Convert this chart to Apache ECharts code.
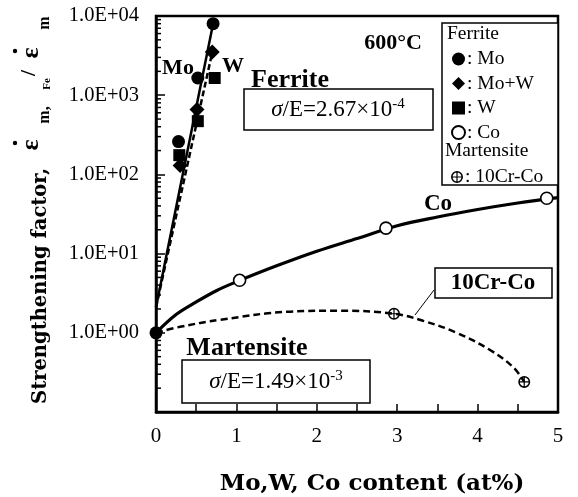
<!DOCTYPE html>
<html>
<head>
<meta charset="utf-8">
<script src="https://cdn.jsdelivr.net/npm/echarts@6/dist/echarts.min.js"></script>
<style>
  html, body { margin: 0; padding: 0; background: #fff; }
  #chart { width: 578px; height: 497px; }
</style>
</head>
<body>
<div id="chart"></div>
<script>
// Measured points (x: at%, y: strengthening factor)
const moX   = [0, 0.28, 0.52, 0.71];
const moY   = [1, 260, 1650, 8000];
const mowX  = [0.30, 0.51, 0.70];
const mowY  = [130, 660, 3500];
const wX    = [0.29, 0.52, 0.73];
const wY    = [175, 470, 1650];
const coX   = [1.04, 2.86, 4.86];
const coY   = [4.6, 21, 50];
const crX   = [2.96, 4.58];
const crY   = [1.74, 0.24];

// Fitted curves
const fitMoX  = [0, 0.71];
const fitMoY  = [2.1, 8000];
const fitWX   = [0, 0.70];
const fitWY   = [2.1, 3500];
const fitCoX  = [0, 0.25, 0.5, 0.75, 1.0, 1.5, 2, 2.5, 3, 3.5, 4, 4.5, 5];
const fitCoY  = [1, 1.7, 2.45, 3.4, 4.4, 7, 10.7, 15.5, 22.5, 29, 36, 43.5, 51];
const fitCrX  = [0, 0.3, 0.8, 1.67, 2.3, 2.96, 3.32, 3.74, 4.15, 4.44, 4.58];
const fitCrY  = [1, 1.19, 1.46, 1.85, 1.9, 1.74, 1.42, 1.0, 0.61, 0.37, 0.24];

// Axis labels
const xTickLabels = ['0', '1', '2', '3', '4', '5'];
const yTickLabels = ['1.0E+00', '1.0E+01', '1.0E+02', '1.0E+03', '1.0E+04'];

const SERIF = '"Liberation Serif", "Times New Roman", serif';
const WIDE_SERIF = '"DejaVu Serif", serif';
const pairs = (xs, ys) => xs.map((x, i) => [x, ys[i]]);

// minor log ticks 2..9 in each decade
const minorTicks = [];
for (let e = -1; e < 4; e++) {
  for (let m = 2; m <= 9; m++) minorTicks.push([0, m * Math.pow(10, e)]);
}

// circle with a cross
const crossCircle = 'path://M0,10 A10,10 0 1,1 20,10 A10,10 0 1,1 0,10 Z M2.6,10 A7.4,7.4 0 1,0 17.4,10 A7.4,7.4 0 1,0 2.6,10 Z M9,2 L11,2 L11,18 L9,18 Z M2,9 L18,9 L18,11 L2,11 Z';

const chart = echarts.init(document.getElementById('chart'), null, { renderer: 'canvas' });

const lineBase = { type: 'line', showSymbol: false, symbol: 'none', silent: true, z: 2 };
const solidBlack = { color: '#000', opacity: 1 };

const option = {
  animation: false,
  backgroundColor: '#fff',
  textStyle: { fontFamily: SERIF, color: '#000' },
  grid: { left: 156, right: 20, top: 16, bottom: 85, show: true, borderColor: '#000', borderWidth: 2.5, backgroundColor: 'transparent' },
  xAxis: {
    type: 'value', min: 0, max: 5, interval: 0.5,
    axisLine: { lineStyle: { color: '#000', width: 2.5 } },
    axisTick: { inside: true, length: 8, lineStyle: { color: '#000', width: 1.5 } },
    splitLine: { show: false },
    axisLabel: {
      margin: 14, fontSize: 21, fontFamily: SERIF, color: '#000',
      formatter: v => (Math.abs(v - Math.round(v)) < 1e-6 ? xTickLabels[Math.round(v)] : '')
    }
  },
  yAxis: {
    type: 'log', logBase: 10, min: 0.1, max: 10000,
    axisLine: { lineStyle: { color: '#000', width: 2.5 } },
    axisTick: { inside: true, length: 9, lineStyle: { color: '#000', width: 1.5 } },
    splitLine: { show: false },
    axisLabel: {
      margin: 17, fontSize: 20.5, fontFamily: SERIF, color: '#000',
      formatter: v => {
        const e = Math.round(Math.log10(v));
        return e >= 0 && e < yTickLabels.length ? yTickLabels[e] : '';
      }
    }
  },
  legend: [
    {
      data: ['Mo', 'Mo+W', 'W', 'Co'], orient: 'vertical', left: 446, top: 44,
      itemGap: 4.5, itemWidth: 13, itemHeight: 13, selectedMode: false,
      formatter: ': {name}',
      textStyle: { fontFamily: SERIF, fontSize: 19.5, color: '#000', padding: [0, 0, 0, -3] }
    },
    {
      data: ['10Cr-Co'], orient: 'vertical', left: 446, top: 162,
      itemWidth: 12, itemHeight: 12, selectedMode: false,
      formatter: ': {name}',
      textStyle: { fontFamily: SERIF, fontSize: 19.5, color: '#000', padding: [0, 0, 0, -3] }
    }
  ],
  series: [
    { ...lineBase, name: 'fit-Mo', data: pairs(fitMoX, fitMoY), lineStyle: { color: '#000', width: 2.5, opacity: 1 } },
    { ...lineBase, name: 'fit-W', data: pairs(fitWX, fitWY), lineStyle: { color: '#000', width: 2.5, opacity: 1, type: [6, 3] } },
    { ...lineBase, name: 'fit-Co', data: pairs(fitCoX, fitCoY), smooth: 0.35, lineStyle: { color: '#000', width: 3.2, opacity: 1 } },
    { ...lineBase, name: 'fit-10Cr', data: pairs(fitCrX, fitCrY), smooth: 0.4, lineStyle: { color: '#000', width: 2.5, opacity: 1, type: [7, 4] } },
    {
      type: 'custom', name: 'minor', silent: true, clip: false, z: 3,
      data: minorTicks,
      renderItem: (params, api) => {
        const p = api.coord([api.value(0), api.value(1)]);
        return { type: 'line', shape: { x1: p[0], y1: p[1], x2: p[0] + 5, y2: p[1] }, style: { stroke: '#000', lineWidth: 1.5 } };
      }
    },
    { type: 'scatter', name: 'Mo', data: pairs(moX, moY), symbol: 'circle', symbolSize: 13, itemStyle: solidBlack, z: 5 },
    { type: 'scatter', name: 'Mo+W', data: pairs(mowX, mowY), symbol: 'diamond', symbolSize: 15, itemStyle: solidBlack, z: 5 },
    { type: 'scatter', name: 'W', data: pairs(wX, wY), symbol: 'rect', symbolSize: 12, itemStyle: solidBlack, z: 5 },
    { type: 'scatter', name: 'Co', data: pairs(coX, coY), symbol: 'circle', symbolSize: 12, itemStyle: { color: '#fff', opacity: 1, borderColor: '#000', borderWidth: 1.6 }, z: 5 },
    { type: 'scatter', name: '10Cr-Co', data: pairs(crX, crY), symbol: crossCircle, symbolSize: 12, itemStyle: solidBlack, z: 5 }
  ],
  graphic: [
    // Y-axis title
    { type: 'text', x: 41, y: 286, rotation: Math.PI / 2, style: { text: 'Strengthening factor,', font: 'bold 19.5px ' + WIDE_SERIF, fill: '#000', textAlign: 'center', textVerticalAlign: 'middle' } },
    { type: 'text', x: 31, y: 145, rotation: Math.PI / 2, style: { text: 'ε', font: 'bold 26px ' + SERIF, fill: '#000', textAlign: 'center', textVerticalAlign: 'middle' } },
    { type: 'circle', shape: { cx: 15, cy: 143, r: 2.2 }, style: { fill: '#000' } },
    { type: 'text', x: 45, y: 115, rotation: Math.PI / 2, style: { text: 'm,', font: 'bold 16px ' + SERIF, fill: '#000', textAlign: 'center', textVerticalAlign: 'middle' } },
    { type: 'text', x: 47, y: 84, rotation: Math.PI / 2, style: { text: 'Fe', font: 'bold 11px ' + SERIF, fill: '#000', textAlign: 'center', textVerticalAlign: 'middle' } },
    { type: 'text', x: 29, y: 73, rotation: Math.PI / 2, style: { text: '/', font: 'bold 22px ' + SERIF, fill: '#000', textAlign: 'center', textVerticalAlign: 'middle' } },
    { type: 'text', x: 31, y: 53, rotation: Math.PI / 2, style: { text: 'ε', font: 'bold 26px ' + SERIF, fill: '#000', textAlign: 'center', textVerticalAlign: 'middle' } },
    { type: 'circle', shape: { cx: 15, cy: 51, r: 2.2 }, style: { fill: '#000' } },
    { type: 'text', x: 45, y: 23, rotation: Math.PI / 2, style: { text: 'm', font: 'bold 16px ' + SERIF, fill: '#000', textAlign: 'center', textVerticalAlign: 'middle' } },

    // X-axis title
    { type: 'text', x: 372, y: 484, style: { text: 'Mo,W, Co content (at%)', font: 'bold 23px ' + WIDE_SERIF, fill: '#000', textAlign: 'center', textVerticalAlign: 'middle' } },

    // Annotations
    { type: 'text', x: 178, y: 68, z: 10, style: { text: 'Mo', font: 'bold 22px ' + SERIF, fill: '#000', textAlign: 'center', textVerticalAlign: 'middle' } },
    { type: 'text', x: 233, y: 66, z: 10, style: { text: 'W', font: 'bold 22px ' + SERIF, fill: '#000', textAlign: 'center', textVerticalAlign: 'middle' } },
    { type: 'text', x: 290, y: 80, z: 10, style: { text: 'Ferrite', font: 'bold 26px ' + SERIF, fill: '#000', textAlign: 'center', textVerticalAlign: 'middle' } },
    { type: 'rect', z: 10, shape: { x: 244, y: 89, width: 189, height: 41 }, style: { fill: '#fff', stroke: '#000', lineWidth: 1.5 } },
    {
      type: 'text', x: 338, y: 110, z: 11,
      style: {
        text: '{i|σ}{n|/E=2.67×10}{s|-4}', textAlign: 'center', textVerticalAlign: 'middle', fill: '#000',
        rich: {
          i: { font: 'italic 23px ' + SERIF, lineHeight: 26, verticalAlign: 'middle' },
          n: { font: '23px ' + SERIF, lineHeight: 26, verticalAlign: 'middle' },
          s: { font: '15px ' + SERIF, lineHeight: 14, verticalAlign: 'top' }
        }
      }
    },
    { type: 'text', x: 393, y: 43, z: 10, style: { text: '600°C', font: 'bold 22px ' + SERIF, fill: '#000', textAlign: 'center', textVerticalAlign: 'middle' } },

    // legend frame and headings
    { type: 'rect', z: 1, shape: { x: 442, y: 23, width: 116, height: 162 }, style: { fill: '#fff', stroke: '#000', lineWidth: 1.5 } },
    { type: 'text', x: 447, y: 34, z: 10, style: { text: 'Ferrite', font: '19.5px ' + SERIF, fill: '#000', textAlign: 'left', textVerticalAlign: 'middle' } },
    { type: 'text', x: 445, y: 151, z: 10, style: { text: 'Martensite', font: '19.5px ' + SERIF, fill: '#000', textAlign: 'left', textVerticalAlign: 'middle' } },

    { type: 'text', x: 438, y: 204, z: 10, style: { text: 'Co', font: 'bold 23px ' + SERIF, fill: '#000', textAlign: 'center', textVerticalAlign: 'middle' } },
    { type: 'rect', z: 10, shape: { x: 435, y: 268, width: 117, height: 30 }, style: { fill: '#fff', stroke: '#000', lineWidth: 1.5 } },
    { type: 'text', x: 493, y: 283, z: 11, style: { text: '10Cr-Co', font: 'bold 23px ' + SERIF, fill: '#000', textAlign: 'center', textVerticalAlign: 'middle' } },
    { type: 'line', z: 10, shape: { x1: 434, y1: 290, x2: 415, y2: 315 }, style: { stroke: '#000', lineWidth: 1 } },

    { type: 'text', x: 247, y: 348, z: 10, style: { text: 'Martensite', font: 'bold 26px ' + SERIF, fill: '#000', textAlign: 'center', textVerticalAlign: 'middle' } },
    { type: 'rect', z: 10, shape: { x: 182, y: 360, width: 188, height: 43 }, style: { fill: '#fff', stroke: '#000', lineWidth: 1.5 } },
    {
      type: 'text', x: 276, y: 382, z: 11,
      style: {
        text: '{i|σ}{n|/E=1.49×10}{s|-3}', textAlign: 'center', textVerticalAlign: 'middle', fill: '#000',
        rich: {
          i: { font: 'italic 23px ' + SERIF, lineHeight: 26, verticalAlign: 'middle' },
          n: { font: '23px ' + SERIF, lineHeight: 26, verticalAlign: 'middle' },
          s: { font: '15px ' + SERIF, lineHeight: 14, verticalAlign: 'top' }
        }
      }
    }
  ]
};

chart.setOption(option);
</script>
</body>
</html>
